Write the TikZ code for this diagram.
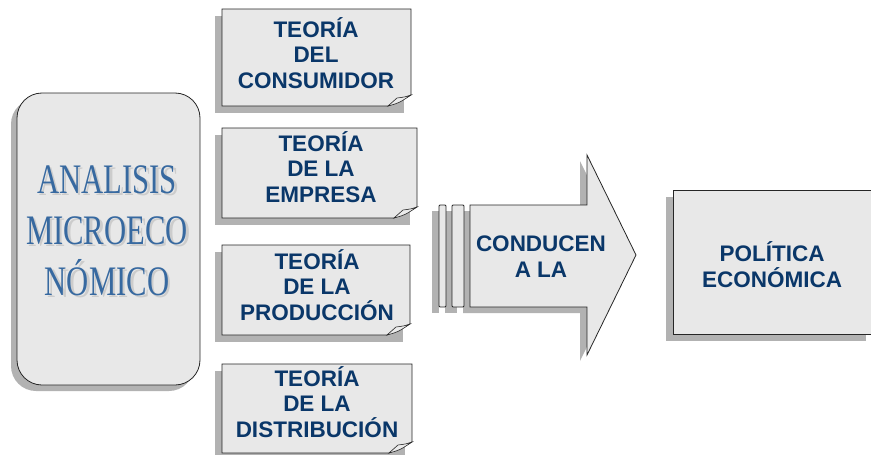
\documentclass[tikz,border=0pt]{standalone}
\usepackage{fontspec}
\setmainfont{Liberation Sans}
\newfontfamily\condserif[FakeStretch=0.73]{Liberation Serif}
\definecolor{navy}{RGB}{10,55,105}
\definecolor{steel}{RGB}{55,105,160}
\definecolor{boxfill}{RGB}{232,232,232}
\definecolor{shade}{RGB}{178,178,178}

\begin{document}
\begin{tikzpicture}[x=1pt, y=-1pt,
	box/.style={draw=black!85, fill=boxfill, line width=0.8pt},
	shadow/.style={fill=shade, draw=none},
	flap/.style={draw=black!85, fill=black!8, line width=0.6pt},
	lbl/.style={anchor=base, align=center, text=navy, inner sep=0pt, font=\fontsize{22.5}{25.5}\selectfont\bfseries},
	big/.style={anchor=base, align=center, inner sep=0pt, font=\condserif\fontsize{42}{51}\selectfont}]
	\useasboundingbox (0,0) rectangle (871,455);

	% left box
	\fill[shadow, rounded corners=25pt] (11,99) rectangle (194,391);
	\draw[box, rounded corners=25pt] (17,93) rectangle (200,385);
	\node[big, text=black!20] (analisisShade) at (109.5,297.5) {ANALISIS\\MICROECO\\NÓMICO};
	\node[big, text=steel] (analisis) at (107,295) {ANALISIS\\MICROECO\\NÓMICO};

	% note boxes
	\foreach \t/\r/\b in {9/411/106, 128/417/218, 245/410/335, 364/412/453}{
		\fill[shadow] (215,\t+7) rectangle (\r-7,\b+7);
		\draw[box] (222,\t) -- (\r,\t) -- (\r,\b-11) -- (\r-23,\b) -- (222,\b) -- cycle;
		\draw[flap] (\r,\b-11) .. controls (\r-6,\b-9) .. (\r-14,\b-8) -- (\r-23,\b) .. controls (\r-12,\b-3) .. (\r,\b-11) -- cycle;
	}
	\node[lbl] (consumidor) at (316,88) {TEORÍA\\DEL\\CONSUMIDOR};
	\node[lbl] (empresa) at (321,202) {TEORÍA\\DE LA\\EMPRESA};
	\node[lbl] (produccion) at (317,320) {TEORÍA\\DE LA\\PRODUCCIÓN};
	\node[lbl] (distribucion) at (317,437) {TEORÍA\\DE LA\\DISTRIBUCIÓN};

	% arrow
	\fill[shadow] (432,211) rectangle (439,313);
	\fill[shadow] (445,211) rectangle (457,313);
	\fill[shadow] (463,211) -- (580,211) -- (580,161) -- (629,261) -- (580,361) -- (580,313) -- (463,313) -- cycle;
	\draw[box, rounded corners=1pt] (439,205) rectangle (446,307);
	\draw[box, rounded corners=1pt] (452,205) rectangle (464,307);
	\draw[box] (470,205) -- (587,205) -- (587,155) -- (636,255) -- (587,355) -- (587,307) -- (470,307) -- cycle;
	\node[lbl] (conducen) at (541,277) {CONDUCEN\\A LA};

	% right box
	\fill[shadow] (666,197) rectangle (866,341);
	\draw[box] (673,190) rectangle (874,334);
	\node[lbl] (politica) at (772,287) {POLÍTICA\\ECONÓMICA};
\end{tikzpicture}
\end{document}
